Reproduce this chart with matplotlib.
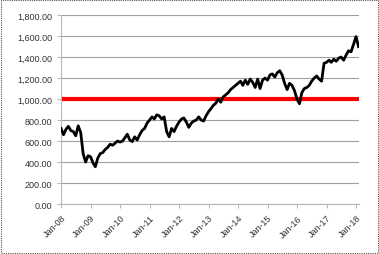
import matplotlib
matplotlib.use("Agg")
import matplotlib.pyplot as plt
import matplotlib.dates as mdates
from matplotlib.patches import Rectangle
from matplotlib.ticker import FuncFormatter
import pandas as pd

# monthly index level, Jan-08 .. Feb-18
values = [
    720, 660, 710, 740, 700, 690, 650, 745, 680, 480, 400, 460,      # 2008
    450, 390, 355, 440, 480, 490, 520, 540, 570, 560, 580, 600,      # 2009
    590, 600, 630, 665, 610, 595, 640, 610, 660, 700, 720, 770,      # 2010
    800, 830, 810, 850, 840, 810, 830, 690, 640, 720, 690, 740,      # 2011
    780, 810, 820, 780, 730, 770, 790, 800, 830, 800, 790, 840,      # 2012
    880, 910, 940, 960, 1000, 970, 1020, 1040, 1060, 1090, 1110, 1130,  # 2013
    1150, 1170, 1130, 1180, 1140, 1190, 1160, 1110, 1190, 1100, 1180, 1200,  # 2014
    1180, 1230, 1240, 1210, 1250, 1270, 1230, 1150, 1090, 1150, 1130, 1080,  # 2015
    1000, 955, 1060, 1100, 1110, 1130, 1170, 1200, 1220, 1190, 1170, 1340,   # 2016
    1350, 1370, 1350, 1380, 1360, 1390, 1400, 1370, 1420, 1460, 1450, 1520,  # 2017
    1595, 1500,                                                      # 2018
]
dates = pd.date_range("2008-01-01", periods=len(values), freq="MS")
threshold = 1000
yticks = [0, 200, 400, 600, 800, 1000, 1200, 1400, 1600, 1800]

fig = plt.figure(figsize=(3.79, 2.55), dpi=100)
ax = fig.add_axes([0.161, 0.196, 0.786, 0.741])

ax.plot(dates, values, color="black", linewidth=2, zorder=3)
ax.axhline(threshold, color="#ff0000", linewidth=3, zorder=2)

ax.set_ylim(0, 1800)
ax.set_xlim(pd.Timestamp("2008-01-01"), pd.Timestamp("2018-02-06"))
ax.set_yticks(yticks)
ax.yaxis.set_major_formatter(FuncFormatter(lambda v, p: f"{v:,.2f}"))
ax.xaxis.set_major_locator(mdates.YearLocator())
ax.xaxis.set_major_formatter(mdates.DateFormatter("%b-%y"))

ax.grid(axis="y", color="#a0a0a0", linewidth=0.8)
ax.set_axisbelow(True)
for s in ["top", "right"]:
    ax.spines[s].set_visible(False)
for s in ["left", "bottom"]:
    ax.spines[s].set_color("#b8b8b8")
    ax.spines[s].set_linewidth(0.8)
ax.tick_params(axis="both", colors="#b8b8b8", length=3, width=0.8,
               labelcolor="#333333", labelsize=6.5)
for lab in ax.get_yticklabels() + ax.get_xticklabels():
    lab.set_fontfamily("Liberation Sans")
plt.setp(ax.get_xticklabels(), rotation=45, ha="right", rotation_mode="anchor")

fig.patches.append(Rectangle((0.003, 0.004), 0.994, 0.992, transform=fig.transFigure,
                             fill=False, edgecolor="#555555", linewidth=0.8,
                             linestyle=(0, (1, 1))))

fig.savefig("out.png", dpi=100)
